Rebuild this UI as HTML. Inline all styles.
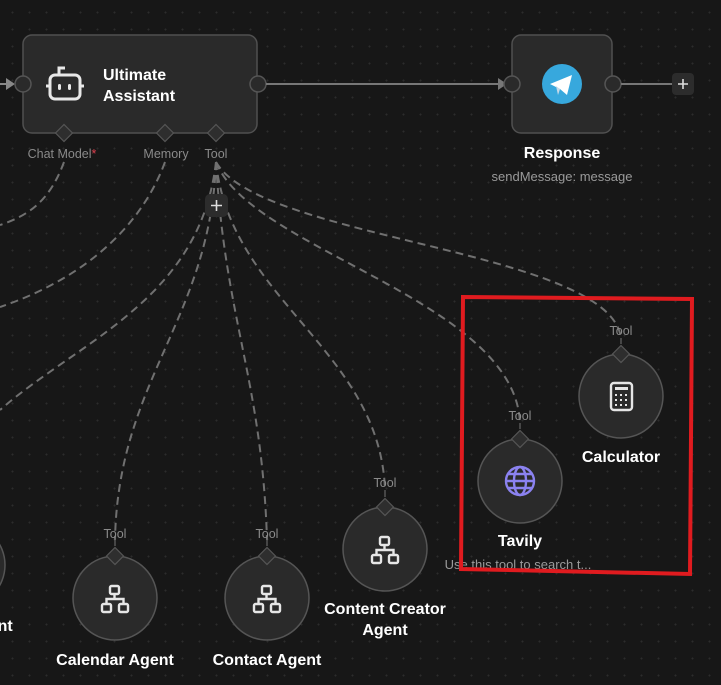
<!DOCTYPE html>
<html><head><meta charset="utf-8"><style>
html,body{margin:0;padding:0}
body{width:721px;height:685px;overflow:hidden;background-color:#171717;
background-image:radial-gradient(circle,#2c2c2c 0.8px,transparent 1.1px);background-size:17px 17px;background-position:4px 4px;
font-family:"Liberation Sans",sans-serif}
svg{position:absolute;left:0;top:0}
</style></head><body>
<svg width="721" height="685" viewBox="0 0 721 685">
<g fill="none" stroke="#707070" stroke-width="2" stroke-dasharray="8 5">
<path d="M64,162 C50,200 30,215 0,225"/>
<path d="M165,162 C140,230 80,280 0,307"/>
<path d="M216,162 C200,300 80,340 0,410"/>
<path d="M216,162 C210,320 118,380 115,540"/>
<path d="M216,162 C225,320 262,380 267,540"/>
<path d="M216,162 C230,300 380,350 385,490"/>
<path d="M216,162 C250,250 515,300 520,423"/>
<path d="M216,162 C260,240 610,250 621,338"/>
</g>
<line x1="0" y1="84" x2="10" y2="84" stroke="#888" stroke-width="2"/>
<polygon points="6,78 15,84 6,90" fill="#888"/>
<rect x="23" y="35" width="234" height="98" rx="9" fill="#2a2a2a" stroke="#505050" stroke-width="1.5"/>
<circle cx="23" cy="84" r="8" fill="#2a2a2a" stroke="#555" stroke-width="1.5"/>
<circle cx="258" cy="84" r="8" fill="#2a2a2a" stroke="#555" stroke-width="1.5"/>
<g stroke="#e8e8e8" stroke-width="3" fill="none">
<rect x="50" y="75" width="30" height="24" rx="5"/>
<path d="M59,75 V68 H65"/>
<line x1="46" y1="86" x2="50" y2="86"/><line x1="80" y1="86" x2="84" y2="86"/>
</g>
<rect x="58" y="84" width="3" height="6" rx="1.5" fill="#e8e8e8"/><rect x="68" y="84" width="3" height="6" rx="1.5" fill="#e8e8e8"/>
<text x="103" y="80" fill="#fff" font-size="16" font-weight="bold">Ultimate</text>
<text x="103" y="101" fill="#fff" font-size="16" font-weight="bold">Assistant</text>
<g fill="#2e2e2e" stroke="#555" stroke-width="1.2">
<rect x="58" y="127" width="12" height="12" transform="rotate(45 64 133)"/>
<rect x="159" y="127" width="12" height="12" transform="rotate(45 165 133)"/>
<rect x="210" y="127" width="12" height="12" transform="rotate(45 216 133)"/>
</g>
<g font-size="12.5" fill="#8a8a8a" text-anchor="middle">
<text x="62" y="158">Chat Model<tspan fill="#e04050">*</tspan></text>
<text x="166" y="158">Memory</text>
<text x="216" y="158">Tool</text>
</g>
<rect x="205" y="194" width="23" height="23" rx="5" fill="#2c2c2c"/>
<path d="M216.5,200 v11 M211,205.5 h11" stroke="#ddd" stroke-width="1.6"/>
<line x1="266" y1="84" x2="500" y2="84" stroke="#777" stroke-width="2"/>
<polygon points="498,78 507,84 498,90" fill="#777"/>
<rect x="512" y="35" width="100" height="98" rx="9" fill="#2a2a2a" stroke="#505050" stroke-width="1.5"/>
<circle cx="512" cy="84" r="8" fill="#2a2a2a" stroke="#555" stroke-width="1.5"/>
<circle cx="613" cy="84" r="8" fill="#2a2a2a" stroke="#555" stroke-width="1.5"/>
<circle cx="562" cy="84" r="20" fill="#37a8dd"/>
<polygon points="550,84 572,75 567,95 560,89" fill="#fff"/>
<polygon points="556,86 560,89 558,95" fill="#c8dae8"/>
<line x1="621" y1="84" x2="672" y2="84" stroke="#777" stroke-width="2"/>
<rect x="672" y="73" width="22" height="22" rx="4" fill="#2c2c2c"/>
<path d="M683,79 v10 M678,84 h10" stroke="#ddd" stroke-width="1.6"/>
<text x="562" y="158" fill="#fff" font-size="16" font-weight="bold" text-anchor="middle">Response</text>
<text x="562" y="181" fill="#9a9a9a" font-size="13" text-anchor="middle">sendMessage: message</text>
<g fill="#2a2a2a" stroke="#555" stroke-width="1.5">
<circle cx="-37" cy="565" r="42"/>
<circle cx="115" cy="598" r="42"/>
<circle cx="267" cy="598" r="42"/>
<circle cx="385" cy="549" r="42"/>
<circle cx="520" cy="481" r="42"/>
<circle cx="621" cy="396" r="42"/>
</g>
<g fill="#2e2e2e" stroke="#555" stroke-width="1.2">
<rect x="109" y="550" width="12" height="12" transform="rotate(45 115 556)"/>
<rect x="261" y="550" width="12" height="12" transform="rotate(45 267 556)"/>
<rect x="379" y="501" width="12" height="12" transform="rotate(45 385 507)"/>
<rect x="514" y="433" width="12" height="12" transform="rotate(45 520 439)"/>
<rect x="615" y="348" width="12" height="12" transform="rotate(45 621 354)"/>
</g>
<g stroke="#666" stroke-width="1.2">
<line x1="115" y1="539" x2="115" y2="546"/><line x1="267" y1="539" x2="267" y2="546"/>
<line x1="385" y1="490" x2="385" y2="497"/><line x1="520" y1="423" x2="520" y2="429"/><line x1="621" y1="338" x2="621" y2="344"/>
</g>
<g font-size="12.5" fill="#8a8a8a" text-anchor="middle">
<text x="115" y="538">Tool</text><text x="267" y="538">Tool</text><text x="385" y="487">Tool</text>
<text x="520" y="420">Tool</text><text x="621" y="335">Tool</text>
</g>
<g fill="none" stroke="#e6e6e6" stroke-width="2.4">
<g><rect x="110" y="586" width="9" height="8" rx="1.5"/><rect x="102" y="604" width="9" height="8" rx="1.5"/><rect x="119" y="604" width="9" height="8" rx="1.5"/><path d="M114.5,594 v5 M106.5,604 v-5 h17 v5"/></g>
<g transform="translate(152,0)"><rect x="110" y="586" width="9" height="8" rx="1.5"/><rect x="102" y="604" width="9" height="8" rx="1.5"/><rect x="119" y="604" width="9" height="8" rx="1.5"/><path d="M114.5,594 v5 M106.5,604 v-5 h17 v5"/></g>
<g transform="translate(270,-49)"><rect x="110" y="586" width="9" height="8" rx="1.5"/><rect x="102" y="604" width="9" height="8" rx="1.5"/><rect x="119" y="604" width="9" height="8" rx="1.5"/><path d="M114.5,594 v5 M106.5,604 v-5 h17 v5"/></g>
</g>
<g fill="none" stroke="#8b82f0" stroke-width="2.4">
<circle cx="520" cy="481" r="14"/>
<ellipse cx="520" cy="481" rx="6" ry="14"/>
<line x1="506" y1="481" x2="534" y2="481"/>
<line x1="508" y1="474" x2="532" y2="474"/><line x1="508" y1="488" x2="532" y2="488"/>
</g>
<rect x="611" y="383" width="21" height="27" rx="3" fill="none" stroke="#e6e6e6" stroke-width="2.4"/>
<rect x="615" y="387" width="13" height="3" fill="#e6e6e6"/>
<g fill="#e6e6e6"><rect x="615" y="394" width="2" height="2"/><rect x="620" y="394" width="2" height="2"/><rect x="625" y="394" width="2" height="2"/>
<rect x="615" y="399" width="2" height="2"/><rect x="620" y="399" width="2" height="2"/><rect x="625" y="399" width="2" height="2"/>
<rect x="615" y="404" width="2" height="2"/><rect x="620" y="404" width="2" height="2"/><rect x="625" y="404" width="2" height="2"/></g>
<g fill="#fff" font-size="16" font-weight="bold" text-anchor="middle">
<text x="-10" y="631">Agent</text>
<text x="115" y="665">Calendar Agent</text>
<text x="267" y="665">Contact Agent</text>
<text x="385" y="614">Content Creator</text>
<text x="385" y="635">Agent</text>
<text x="520" y="546">Tavily</text>
<text x="621" y="462">Calculator</text>
</g>
<text x="518" y="569" fill="#9a9a9a" font-size="13" text-anchor="middle">Use this tool to search t...</text>
<polygon points="463,297 692,299 690,574 461,569" fill="none" stroke="#e01b1f" stroke-width="4"/>
</svg>
</body></html>
